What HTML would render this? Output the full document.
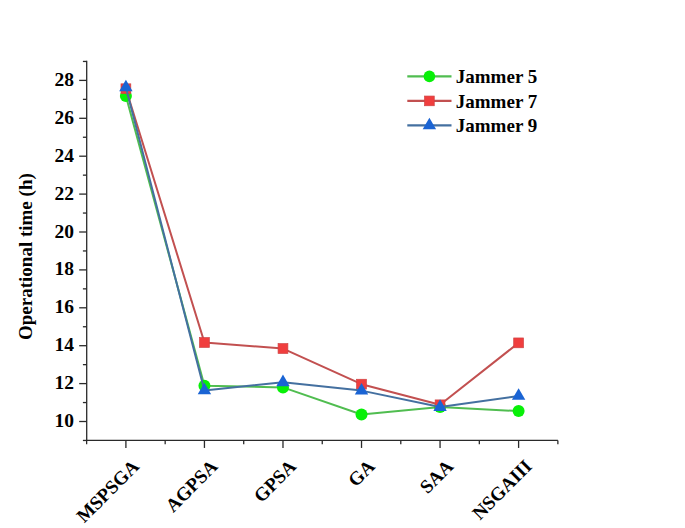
<!DOCTYPE html><html><head><meta charset="utf-8"><style>html,body{margin:0;padding:0;background:#fff;overflow:hidden}svg{display:block}</style></head><body><svg width="685" height="528" viewBox="0 0 685 528">
<rect width="685" height="528" fill="#fff"/>
<g stroke="#2a2a2a" stroke-width="1.3" fill="none">
<line x1="86.7" y1="60.8" x2="86.7" y2="441.09999999999997"/>
<line x1="86.05" y1="440.45" x2="557.9" y2="440.45"/>
<line x1="82.90" y1="440.45" x2="86.7" y2="440.45"/>
<line x1="79.20" y1="421.50" x2="86.7" y2="421.50"/>
<line x1="82.90" y1="402.55" x2="86.7" y2="402.55"/>
<line x1="79.20" y1="383.60" x2="86.7" y2="383.60"/>
<line x1="82.90" y1="364.65" x2="86.7" y2="364.65"/>
<line x1="79.20" y1="345.70" x2="86.7" y2="345.70"/>
<line x1="82.90" y1="326.75" x2="86.7" y2="326.75"/>
<line x1="79.20" y1="307.80" x2="86.7" y2="307.80"/>
<line x1="82.90" y1="288.85" x2="86.7" y2="288.85"/>
<line x1="79.20" y1="269.90" x2="86.7" y2="269.90"/>
<line x1="82.90" y1="250.95" x2="86.7" y2="250.95"/>
<line x1="79.20" y1="232.00" x2="86.7" y2="232.00"/>
<line x1="82.90" y1="213.05" x2="86.7" y2="213.05"/>
<line x1="79.20" y1="194.10" x2="86.7" y2="194.10"/>
<line x1="82.90" y1="175.15" x2="86.7" y2="175.15"/>
<line x1="79.20" y1="156.20" x2="86.7" y2="156.20"/>
<line x1="82.90" y1="137.25" x2="86.7" y2="137.25"/>
<line x1="79.20" y1="118.30" x2="86.7" y2="118.30"/>
<line x1="82.90" y1="99.35" x2="86.7" y2="99.35"/>
<line x1="79.20" y1="80.40" x2="86.7" y2="80.40"/>
<line x1="82.90" y1="61.45" x2="86.7" y2="61.45"/>
<line x1="86.63" y1="440.45" x2="86.63" y2="444.25"/>
<line x1="125.90" y1="440.45" x2="125.90" y2="447.95"/>
<line x1="165.17" y1="440.45" x2="165.17" y2="444.25"/>
<line x1="204.44" y1="440.45" x2="204.44" y2="447.95"/>
<line x1="243.71" y1="440.45" x2="243.71" y2="444.25"/>
<line x1="282.98" y1="440.45" x2="282.98" y2="447.95"/>
<line x1="322.25" y1="440.45" x2="322.25" y2="444.25"/>
<line x1="361.52" y1="440.45" x2="361.52" y2="447.95"/>
<line x1="400.79" y1="440.45" x2="400.79" y2="444.25"/>
<line x1="440.06" y1="440.45" x2="440.06" y2="447.95"/>
<line x1="479.33" y1="440.45" x2="479.33" y2="444.25"/>
<line x1="518.60" y1="440.45" x2="518.60" y2="447.95"/>
<line x1="557.87" y1="440.45" x2="557.87" y2="444.25"/>
</g>
<g font-family="Liberation Serif, serif" font-weight="bold" font-size="19.5" fill="#000" text-anchor="end">
<text x="73.9" y="427.00">10</text>
<text x="73.9" y="389.10">12</text>
<text x="73.9" y="351.20">14</text>
<text x="73.9" y="313.30">16</text>
<text x="73.9" y="275.40">18</text>
<text x="73.9" y="237.50">20</text>
<text x="73.9" y="199.60">22</text>
<text x="73.9" y="161.70">24</text>
<text x="73.9" y="123.80">26</text>
<text x="73.9" y="85.90">28</text>
</g>
<text transform="translate(32.4,256.6) rotate(-90)" text-anchor="middle" font-family="Liberation Serif, serif" font-weight="bold" font-size="19.0" fill="#000">Operational time (h)</text>
<g font-family="Liberation Serif, serif" font-weight="bold" font-size="19" fill="#000" text-anchor="end">
<text transform="translate(130.60,458) rotate(-45)" dominant-baseline="hanging">MSPSGA</text>
<text transform="translate(209.14,458) rotate(-45)" dominant-baseline="hanging">AGPSA</text>
<text transform="translate(287.68,458) rotate(-45)" dominant-baseline="hanging">GPSA</text>
<text transform="translate(366.22,458) rotate(-45)" dominant-baseline="hanging">GA</text>
<text transform="translate(444.76,458) rotate(-45)" dominant-baseline="hanging">SAA</text>
<text transform="translate(523.30,458) rotate(-45)" dominant-baseline="hanging">NSGAIII</text>
</g>
<polyline points="125.90,95.94 204.44,385.68 282.98,387.39 361.52,414.49 440.06,407.10 518.60,411.08" fill="none" stroke="#50bd50" stroke-width="2.0" stroke-linejoin="round"/>
<circle cx="125.90" cy="95.94" r="6.0" fill="#08f008"/>
<circle cx="204.44" cy="385.68" r="6.0" fill="#08f008"/>
<circle cx="282.98" cy="387.39" r="6.0" fill="#08f008"/>
<circle cx="361.52" cy="414.49" r="6.0" fill="#08f008"/>
<circle cx="440.06" cy="407.10" r="6.0" fill="#08f008"/>
<circle cx="518.60" cy="411.08" r="6.0" fill="#08f008"/>
<polyline points="125.90,88.74 204.44,342.48 282.98,348.54 361.52,384.17 440.06,404.82 518.60,342.86" fill="none" stroke="#c25050" stroke-width="2.0" stroke-linejoin="round"/>
<rect x="121.00" y="83.84" width="9.80" height="9.80" fill="#f03e3e" stroke="#d04444" stroke-width="0.7"/>
<rect x="199.54" y="337.58" width="9.80" height="9.80" fill="#f03e3e" stroke="#d04444" stroke-width="0.7"/>
<rect x="278.08" y="343.64" width="9.80" height="9.80" fill="#f03e3e" stroke="#d04444" stroke-width="0.7"/>
<rect x="356.62" y="379.27" width="9.80" height="9.80" fill="#f03e3e" stroke="#d04444" stroke-width="0.7"/>
<rect x="435.16" y="399.92" width="9.80" height="9.80" fill="#f03e3e" stroke="#d04444" stroke-width="0.7"/>
<rect x="513.70" y="337.96" width="9.80" height="9.80" fill="#f03e3e" stroke="#d04444" stroke-width="0.7"/>
<polyline points="125.90,87.41 204.44,390.42 282.98,382.27 361.52,390.61 440.06,407.10 518.60,395.92" fill="none" stroke="#4470a0" stroke-width="2.0" stroke-linejoin="round"/>
<polygon points="125.90,79.68 119.20,91.28 132.60,91.28" fill="#1a64d4"/>
<polygon points="204.44,382.69 197.74,394.29 211.14,394.29" fill="#1a64d4"/>
<polygon points="282.98,374.54 276.28,386.14 289.68,386.14" fill="#1a64d4"/>
<polygon points="361.52,382.88 354.82,394.48 368.22,394.48" fill="#1a64d4"/>
<polygon points="440.06,399.36 433.36,410.96 446.76,410.96" fill="#1a64d4"/>
<polygon points="518.60,388.18 511.90,399.78 525.30,399.78" fill="#1a64d4"/>
<line x1="407.3" y1="76.4" x2="451.5" y2="76.4" stroke="#50bd50" stroke-width="2.2"/>
<circle cx="429.40" cy="76.40" r="5.8" fill="#08f008"/>
<text x="455.8" y="83.4" font-family="Liberation Serif, serif" font-weight="bold" font-size="19" fill="#000">Jammer 5</text>
<line x1="407.3" y1="100.9" x2="451.5" y2="100.9" stroke="#c25050" stroke-width="2.2"/>
<rect x="424.55" y="96.05" width="9.70" height="9.70" fill="#f03e3e" stroke="#d04444" stroke-width="0.7"/>
<text x="455.8" y="107.9" font-family="Liberation Serif, serif" font-weight="bold" font-size="19" fill="#000">Jammer 7</text>
<line x1="407.3" y1="125.4" x2="451.5" y2="125.4" stroke="#4470a0" stroke-width="2.2"/>
<polygon points="429.40,117.67 422.70,129.27 436.10,129.27" fill="#1a64d4"/>
<text x="455.8" y="132.4" font-family="Liberation Serif, serif" font-weight="bold" font-size="19" fill="#000">Jammer 9</text>
</svg></body></html>
